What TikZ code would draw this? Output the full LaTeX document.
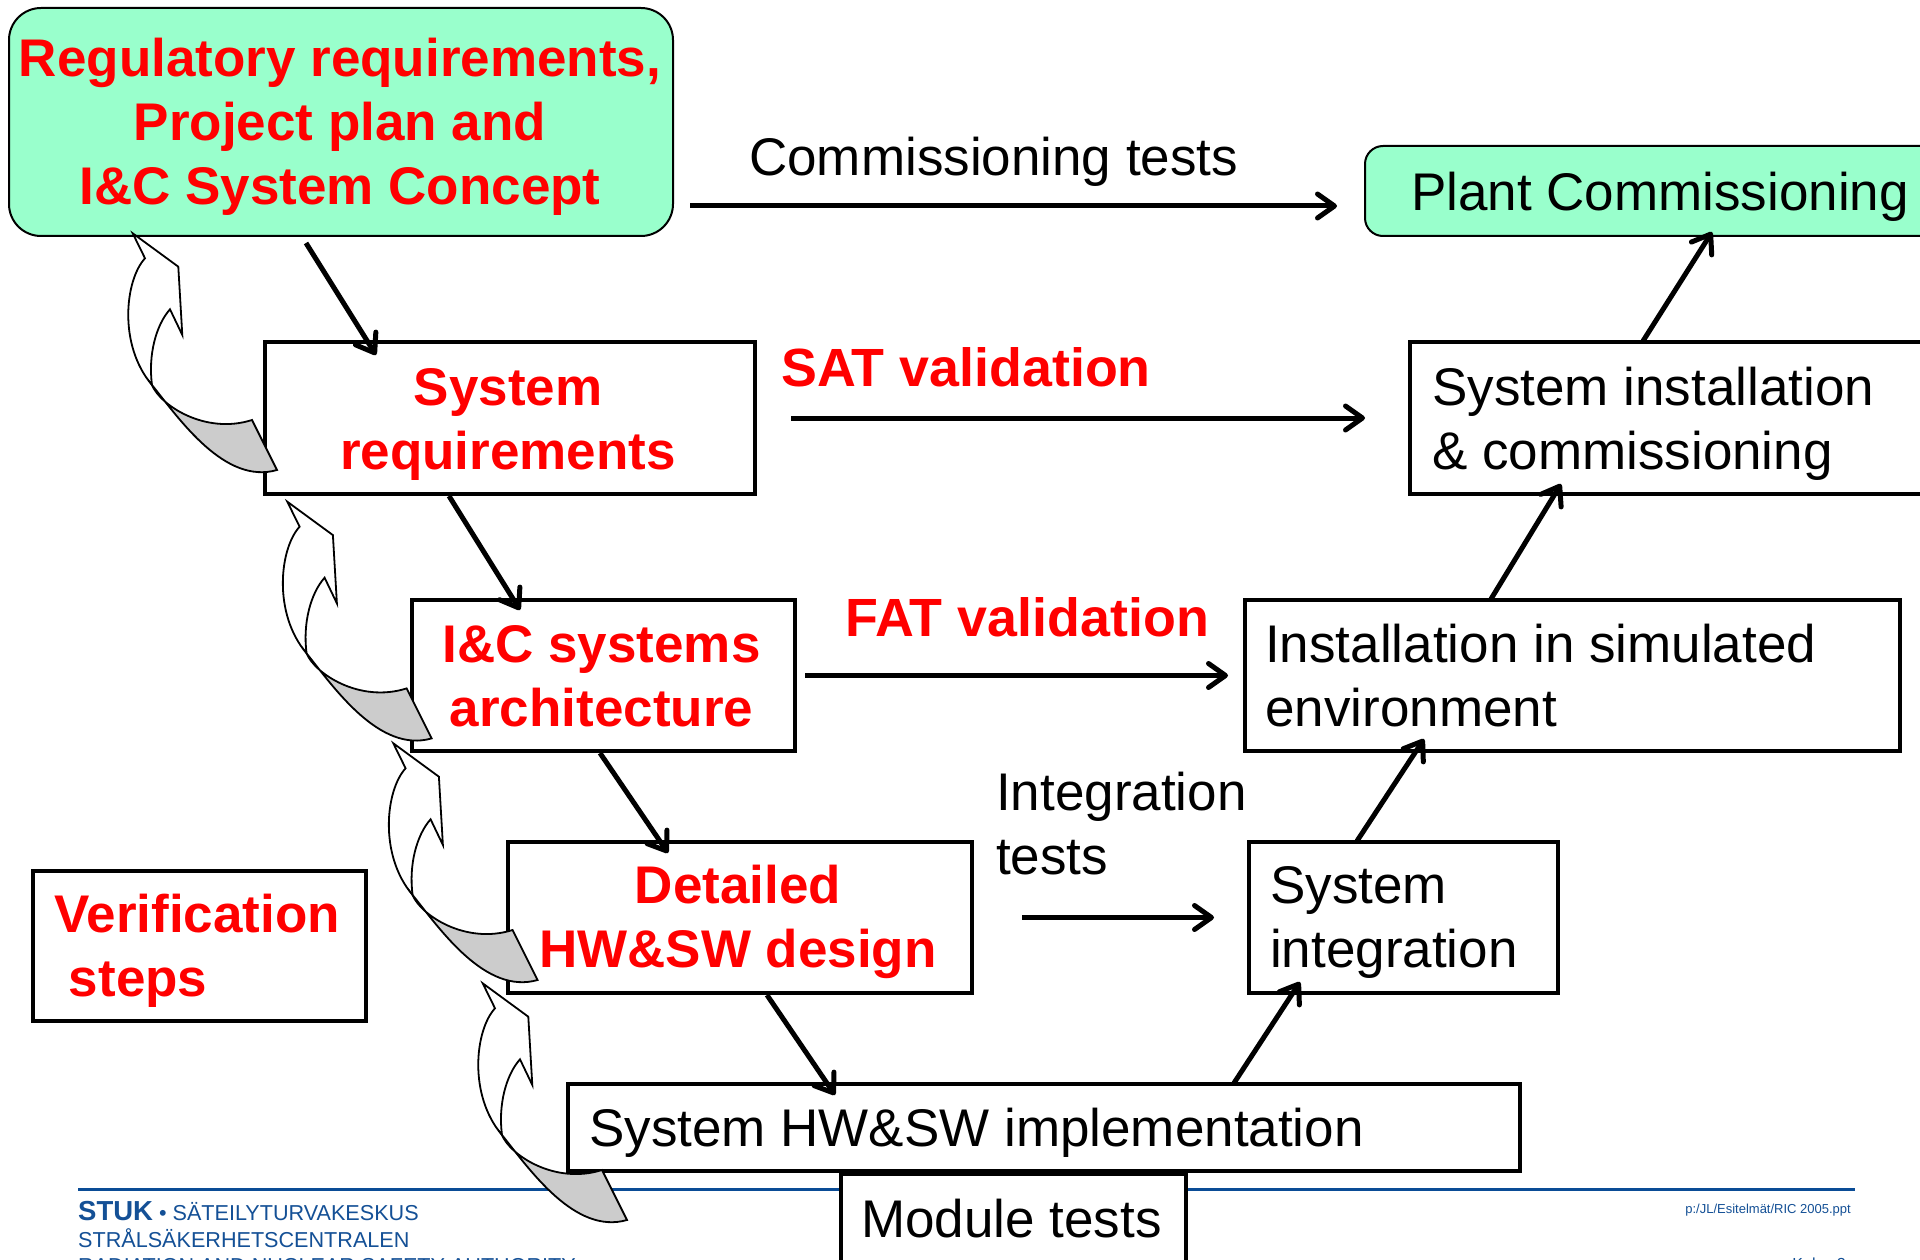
\documentclass[tikz,border=0pt]{standalone}
\usepackage{fontspec}
\setmainfont{Liberation Sans}
\usetikzlibrary{arrows.meta,calc}
\definecolor{mint}{RGB}{153,255,204}
\definecolor{curlgrey}{RGB}{204,204,204}
\definecolor{footblue}{RGB}{20,80,150}
\definecolor{lineblue}{RGB}{10,76,150}
\newcommand\mainsize{\fontsize{53}{64}\selectfont}
\newcommand\curlarrow[2]{%
  \begin{scope}[shift={(#1,#2)}]
    \draw[curl, fill=white] (132.7,233.3) -- (145,258.3)
      .. controls (125,280) and (118,345) .. (152,385)
      .. controls (148,355) and (156,325) .. (170,309.3)
      -- (182.3,335) -- (178.3,266.7) -- cycle;
    \draw[curl, fill=curlgrey] (152,385) .. controls (160,405) and (205,435) .. (252,420)
      -- (277,470) .. controls (225,485) and (180,420) .. (152,385) -- cycle;
  \end{scope}}
\begin{document}
\begin{tikzpicture}[x=1pt,y=-1pt,
  box/.style={draw=black, line width=4pt, fill=white, inner sep=0pt, anchor=north west},
  greenbox/.style={draw=black, line width=2pt, fill=mint, inner sep=0pt, anchor=north west},
  conn/.style={line width=5pt, -{Straight Barb[length=17pt,width=24pt,round]}},
  curl/.style={line width=1.8pt, line join=miter},
  redtxt/.style={text=red, font=\mainsize\bfseries, inner sep=0pt},
  blktxt/.style={text=black, font=\mainsize, inner sep=0pt},
  foot/.style={text=footblue, inner sep=0pt, anchor=base west},
]
\useasboundingbox (0,0) rectangle (1920,1260);
\clip (0,0) rectangle (1920,1260);
\fill[white] (0,0) rectangle (1920,1260);

% footer line
\coordinate (fl-a) at (78,1189);
\coordinate (fl-b) at (1855,1189);
\draw[lineblue, line width=3pt] (fl-a) -- (fl-b);

% boxes
\node[greenbox, rounded corners=32pt, minimum width=664pt, minimum height=228pt] (top) at (8,7) {};
\node[greenbox, rounded corners=18pt, minimum width=600pt, minimum height=90pt] (plant) at (1364,145) {};
\node[box, minimum width=490pt, minimum height=152pt] (sysreq) at (263,340) {};
\node[box, minimum width=560pt, minimum height=152pt] (sysinst) at (1408,340) {};
\node[box, minimum width=383pt, minimum height=151pt] (arch) at (410,598) {};
\node[box, minimum width=655pt, minimum height=151pt] (instsim) at (1243,598) {};
\node[box, minimum width=464pt, minimum height=151pt] (detail) at (506,840) {};
\node[box, minimum width=309pt, minimum height=151pt] (sysint) at (1247,840) {};
\node[box, minimum width=333pt, minimum height=150pt] (verif) at (31,869) {};
\node[box, minimum width=952pt, minimum height=87pt] (impl) at (566,1082) {};
\node[box, minimum width=345pt, minimum height=120pt] (module) at (839,1172) {};

% curved verification arrows
\curlarrow{0}{0}
\curlarrow{154.6}{268.4}
\curlarrow{260.6}{510}
\curlarrow{350}{750}

% connectors
\draw[conn] ($(top.south west)+(298,6)$) -- ($(sysreq.north west)+(113,15)$);
\draw[conn] ($(sysreq.south west)+(186,0)$) -- ($(arch.north west)+(110,12)$);
\draw[conn] ($(arch.south west)+(190,0)$) -- ($(detail.north west)+(162,13)$);
\draw[conn] ($(detail.south west)+(261,0)$) -- ($(impl.north west)+(269,13)$);
\draw[conn] ($(impl.north west)+(668,1)$) -- ($(sysint.south west)+(53,-13)$);
\draw[conn] ($(sysint.north west)+(110,1)$) -- ($(instsim.south west)+(181,-14)$);
\draw[conn] ($(instsim.north west)+(248,1)$) -- ($(sysinst.south west)+(153,-12)$);
\draw[conn] ($(sysinst.north west)+(235,1)$) -- ($(plant.south west)+(348,-5)$);

\draw[conn] ($(top.south east)+(16,-31)$) -- ($(plant.south west)+(-27,-31)$);
\draw[conn] ($(sysreq.east)+(34,0)$) -- ($(sysinst.west)+(-43,0)$);
\draw[conn] ($(arch.east)+(8,0)$) -- ($(instsim.west)+(-15,0)$);
\draw[conn] ($(detail.east)+(48,0)$) -- ($(sysint.west)+(-33,0)$);

% texts
\node[redtxt, anchor=base] (top-t) at (340,77) {\begin{tabular}[t]{@{}c@{}}Regulatory requirements,\\Project plan and\\I\&C System Concept\end{tabular}};
\node[blktxt, anchor=base west] (ct) at (749,176) {Commissioning tests};
\node[blktxt, anchor=base west] (plant-t) at (1411,211) {Plant Commissioning};
\node[redtxt, anchor=base] (sysreq-t) at (508,405) {\begin{tabular}[t]{@{}c@{}}System\\requirements\end{tabular}};
\node[redtxt, anchor=base west, font=\fontsize{53.8}{64}\selectfont\bfseries] (sat) at (781,386) {SAT validation};
\node[blktxt, anchor=base west] (sysinst-t) at (1432,405) {\begin{tabular}[t]{@{}l@{}}System installation\\\& commissioning\end{tabular}};
\node[redtxt, anchor=base] (arch-t) at (601.5,662) {\begin{tabular}[t]{@{}c@{}}I\&C systems\\architecture\end{tabular}};
\node[redtxt, anchor=base west, font=\fontsize{53.8}{64}\selectfont\bfseries] (fat) at (845,636) {FAT validation};
\node[blktxt, anchor=base west] (instsim-t) at (1265,662) {\begin{tabular}[t]{@{}l@{}}Installation in simulated\\environment\end{tabular}};
\node[blktxt, anchor=base west] (integ) at (996,810) {\begin{tabular}[t]{@{}l@{}}Integration\\tests\end{tabular}};
\node[redtxt, anchor=base] (detail-t) at (738,903) {\begin{tabular}[t]{@{}c@{}}Detailed\\HW\&SW design\end{tabular}};
\node[blktxt, anchor=base west] (sysint-t) at (1270,903) {\begin{tabular}[t]{@{}l@{}}System\\integration\end{tabular}};
\node[redtxt, anchor=base west] (verif-t) at (54,932) {\begin{tabular}[t]{@{}l@{}}Verification\\\hspace*{0.278em}steps\end{tabular}};
\node[blktxt, anchor=base west] (impl-t) at (589,1146) {System HW\&SW implementation};
\node[blktxt, anchor=base west] (module-t) at (861,1237) {Module tests};

% footer texts
\node[foot, font=\fontsize{21.6}{25}\selectfont] (f1) at (78,1220) {{\fontsize{27.5}{30}\selectfont\bfseries STUK} • SÄTEILYTURVAKESKUS};
\node[foot, font=\fontsize{21.6}{25}\selectfont] (f2) at (78,1247) {STRÅLSÄKERHETSCENTRALEN};
\node[foot, font=\fontsize{21.6}{25}\selectfont] (f3) at (78,1273) {RADIATION AND NUCLEAR SAFETY AUTHORITY};
\node[foot, anchor=base east, font=\fontsize{13}{15}\selectfont] (f4) at (1851,1213) {p:/JL/Esitelmät/RIC 2005.ppt};
\node[foot, anchor=base east, font=\fontsize{16}{19}\selectfont] (f5) at (1846,1269) {Kalvo 2};
\end{tikzpicture}
\end{document}
